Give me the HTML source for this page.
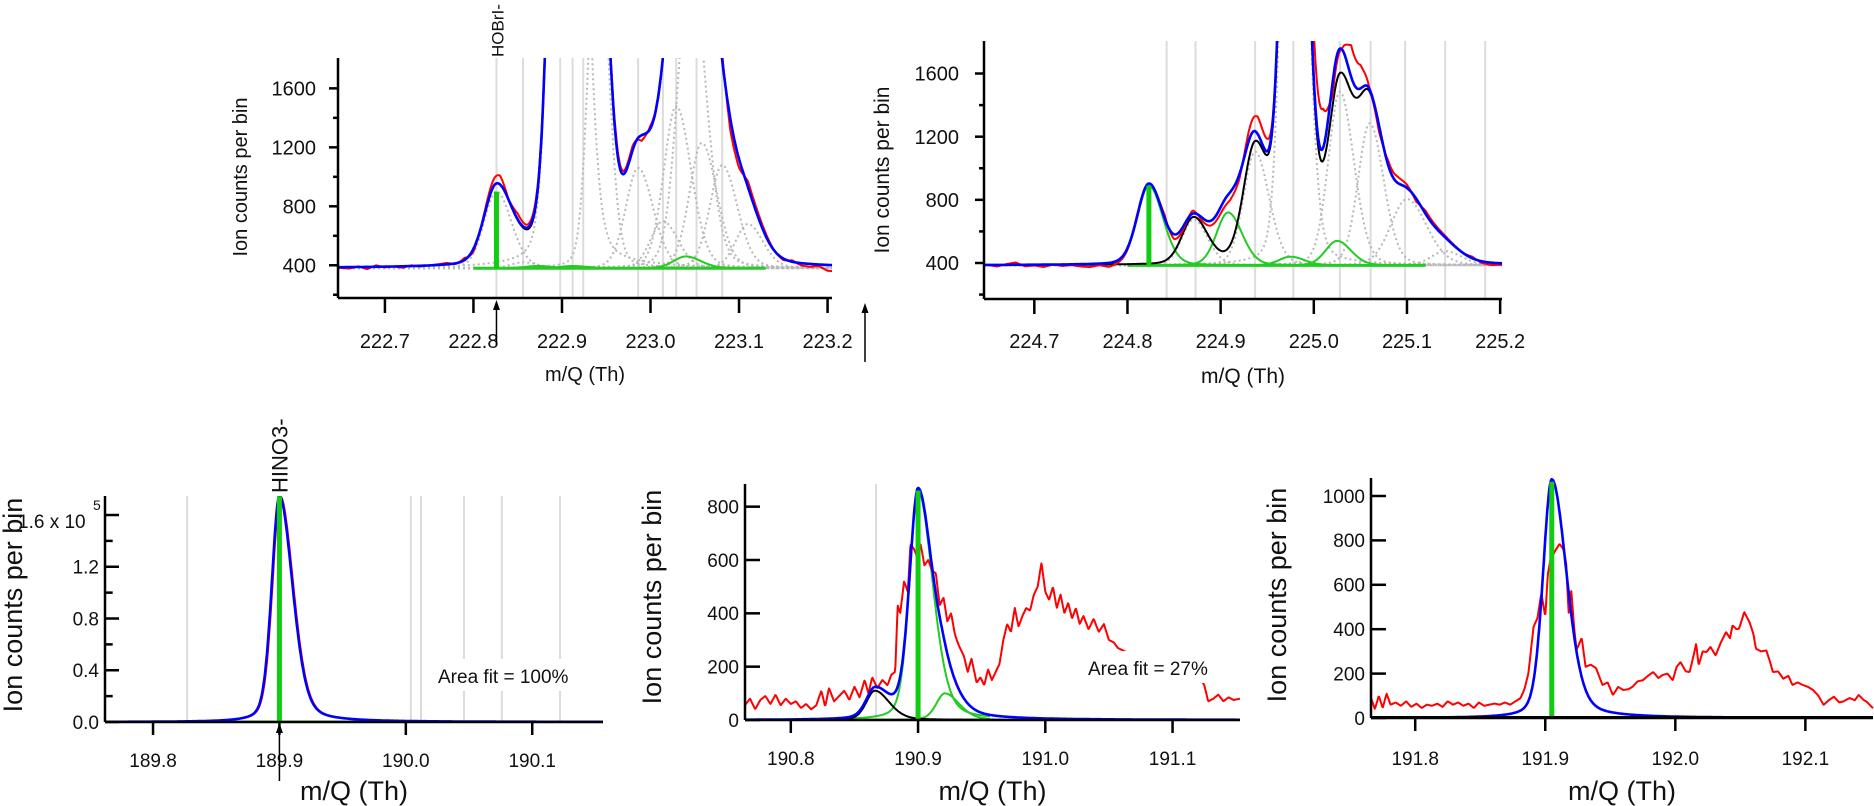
<!DOCTYPE html>
<html><head><meta charset="utf-8">
<style>
html,body{margin:0;padding:0;background:#fff;}
svg{display:block;font-family:"Liberation Sans",sans-serif;}
</style></head>
<body>
<svg id="fig" width="1874" height="806" viewBox="0 0 1874 806" xmlns="http://www.w3.org/2000/svg">
<rect width="1874" height="806" fill="#fff"/>
</svg>
<script>
// ===== Data (m/Q in Th, counts per bin) =====
// Panel A (HOBrI-, 222.x)
const aTicksX=[222.7,222.8,222.9,223.0,223.1,223.2];
const aTickLabelsX=["222.7","222.8","222.9","223.0","223.1","223.2"];
const aTicksY=[400,800,1200,1600];
const aTickLabelsY=["400","800","1200","1600"];
const aMinorY=[200,600,1000,1400];
const aBaseline=[380];
const aCenters=[222.826,222.856,222.905,222.94,222.872,222.912,222.986,223.014,223.029,223.040,223.045,223.058,223.081,223.11];
const aHeights=[520,40,8000,2500,15,15,680,320,1100,80,2100,850,700,300];
const aWidths=[1,1,0.9,0.7,1,1,1,1,1,1,1,1,1,1];
const aKinds=["k","k","k","k","g","g","k","k","k","g","k","k","k","k"];
const aMarkers=[222.826,222.856,222.898,222.912,222.924,222.986,223.014,223.029,223.052,223.081];
const aResidStart=[222.65];
const aResid=[-5,-10,5,-15,10,-5,0,-10,5,-5,0,5,10,-5,15,-20,10,40,60,0,40,20,30,20,0,0,0,0,0,0,0,40,20,30,-40,20,0,0,0,0,0,100,150,60,-80,-60,40,30,20,0,-10,10,-15,-20,-10,-40];

// Panel B (224.x)
const bTicksX=[224.7,224.8,224.9,225.0,225.1,225.2];
const bTickLabelsX=["224.7","224.8","224.9","225.0","225.1","225.2"];
const bTicksY=[400,800,1200,1600];
const bTickLabelsY=["400","800","1200","1600"];
const bMinorY=[200,600,1000,1400];
const bBaseline=[385];
const bCenters=[224.823,224.871,224.908,224.937,224.978,224.975,225.025,225.028,225.060,225.100,225.141];
const bHeights=[505,290,335,720,5000,55,155,1100,900,420,90];
const bWidths=[1,1,1,1,0.8,1,1,1,1,1.4,1.2];
const bKinds=["g","k","g","k","k","g","g","k","k","k","k"];
const bMarkers=[224.842,224.873,224.937,224.978,225.028,225.061,225.098,225.141,225.184];
const bResidStart=[224.65];
const bResid=[0,-10,5,15,-10,-5,-15,0,-10,-5,-15,-20,-10,-25,-15,-10,10,0,0,20,-30,-20,20,-20,-30,-40,-50,-30,60,110,80,0,0,0,0,300,250,-80,0,200,150,0,-40,30,40,20,-20,20,15,10,5,0,10,-10,-15,-10,-20];

// Panel C (HINO3-, 189.9)
const cTicksX=[189.8,189.9,190.0,190.1];
const cTickLabelsX=["189.8","189.9","190.0","190.1"];
const cTicksY=[0,0.4e5,0.8e5,1.2e5];
const cTickLabelsY=["0.0","0.4","0.8","1.2"];
const cMinorY=[0.2e5,0.6e5,1.0e5,1.4e5];
const cCenters=[189.9];
const cHeights=[1.745e5];
const cKinds=["g"];
const cMarkers=[189.827,190.004,190.012,190.046,190.076,190.122];

// Panel D (190.9)
const dTicksX=[190.8,190.9,191.0,191.1];
const dTickLabelsX=["190.8","190.9","191.0","191.1"];
const dTicksY=[0,200,400,600,800];
const dTickLabelsY=["0","200","400","600","800"];
const dCenters=[190.9,190.921,190.866];
const dHeights=[860,100,110];
const dKinds=["g","g","k"];
const dMarkers=[190.867];
const dRedMz=[190.764,190.768,190.772,190.776,190.780,190.784,190.788,190.792,190.796,190.800,190.804,190.808,190.812,190.816,190.820,190.824,190.827,190.830,190.834,190.838,190.842,190.846,190.850,190.854,190.858,190.861,190.864,190.868,190.872,190.876,190.879,190.882,190.884,190.886,190.889,190.892,190.894,190.897,190.900,190.902,190.905,190.908,190.911,190.914,190.917,190.920,190.923,190.926,190.929,190.932,190.936,190.939,190.942,190.946,190.949,190.952,190.955,190.958,190.961,190.964,190.967,190.970,190.973,190.976,190.979,190.982,190.985,190.988,190.991,190.994,190.997,191.000,191.003,191.006,191.009,191.012,191.015,191.018,191.021,191.024,191.027,191.030,191.034,191.038,191.042,191.046,191.050,191.054,191.057,191.070,191.090,191.110,191.120,191.125,191.128,191.132,191.136,191.140,191.144,191.148,191.153];
const dRedCounts=[56,80,40,75,90,60,95,55,80,60,70,45,60,40,55,110,50,120,70,90,110,75,125,85,150,100,160,120,150,130,170,180,430,400,520,480,660,640,600,660,580,600,560,550,430,460,370,400,320,280,240,180,230,140,160,130,190,150,180,210,300,360,330,420,350,390,420,410,470,500,590,480,450,500,420,470,400,440,380,420,360,390,340,380,330,360,300,290,270,240,210,180,170,130,70,80,95,70,85,75,80];

// Panel E (191.9)
const eTicksX=[191.8,191.9,192.0,192.1];
const eTickLabelsX=["191.8","191.9","192.0","192.1"];
const eTicksY=[0,200,400,600,800,1000];
const eTickLabelsY=["0","200","400","600","800","1000"];
const eCenters=[191.905];
const eHeights=[1075];
const eKinds=["g"];
const eRedMz=[191.766,191.769,191.772,191.775,191.778,191.781,191.785,191.789,191.793,191.797,191.801,191.805,191.809,191.813,191.817,191.821,191.825,191.829,191.833,191.837,191.841,191.845,191.849,191.853,191.857,191.861,191.865,191.869,191.873,191.877,191.881,191.884,191.887,191.891,191.894,191.897,191.900,191.902,191.904,191.908,191.911,191.914,191.916,191.918,191.920,191.922,191.924,191.928,191.931,191.935,191.939,191.944,191.948,191.952,191.956,191.960,191.964,191.967,191.971,191.975,191.979,191.983,191.987,191.990,191.994,191.998,192.001,192.004,192.008,192.011,192.014,192.016,192.018,192.021,192.024,192.027,192.031,192.035,192.039,192.042,192.044,192.047,192.049,192.053,192.057,192.060,192.062,192.066,192.070,192.073,192.075,192.079,192.083,192.087,192.090,192.094,192.098,192.102,192.106,192.110,192.114,192.118,192.122,192.126,192.129,192.134,192.138,192.141,192.145,192.147,192.152];
const eRedCounts=[90,40,100,45,110,60,70,55,75,50,65,45,60,55,65,50,75,60,70,55,65,45,70,55,60,65,60,70,60,75,90,130,200,411,450,563,456,650,712,757,784,760,700,473,576,420,306,361,231,240,225,149,160,103,140,126,130,140,165,170,190,207,180,193,200,170,230,252,210,207,280,334,237,300,297,320,282,340,387,360,417,400,402,477,432,380,312,300,304,250,207,210,177,190,149,160,149,140,126,100,59,80,96,70,74,90,80,104,80,74,44];

// ===== Rendering =====
const NS="http://www.w3.org/2000/svg";
const svg=document.getElementById("fig");
function el(tag,attrs,parent){const e=document.createElementNS(NS,tag);for(const k in attrs)e.setAttribute(k,attrs[k]);(parent||svg).appendChild(e);return e;}
function pk(x,c,h,sl,sr,eta){const d=x-c;const s=d<0?sl:sr;const g=Math.exp(-d*d/(2*s*s));const gam=s*1.1774;const l=1/(1+(d/gam)*(d/gam));return h*((1-eta)*g+eta*l);}
function interp(xs,ys,x){if(x<=xs[0])return ys[0];for(let i=1;i<xs.length;i++){if(x<=xs[i]){const t=(x-xs[i-1])/(xs[i]-xs[i-1]);return ys[i-1]+t*(ys[i]-ys[i-1]);}}return ys[ys.length-1];}

function makePanel(P){
  const g=el("g",{});
  
  
  const sx=v=>P.x0+(v-P.xmin)/(P.xmax-P.xmin)*(P.x1-P.x0);
  const sy=v=>P.y1-(v-P.ymin)/(P.ymax-P.ymin)*(P.y1-P.y0);
  const cid="clip-"+P.name;
  const cp=el("clipPath",{id:cid},g);
  el("rect",{x:P.x0,y:P.y0,width:P.x1-P.x0+2,height:P.y1-P.y0},cp);
  const plot=el("g",{"clip-path":"url(#"+cid+")"},g);
  (P.markers||[]).forEach(m=>{
    const ln=el("line",{x1:sx(m),x2:sx(m),y1:P.y0,y2:P.y1,stroke:"#dcdcdc","stroke-width":2},plot);
    
    
  });
  const N=800;const xs=[];for(let i=0;i<=N;i++)xs.push(P.xmin+(P.xmax-P.xmin)*i/N);
  const comp=(i,x)=>{const w=P.widths?P.widths[i]:1;return pk(x,P.centers[i],P.heights[i],P.sl*w,P.sr*w,P.eta);};
  const path=(f,stroke,w,extra)=>{let d="";xs.forEach((x)=>{const v=f(x);if(v===null)return;d+=(d?"L":"M")+sx(x).toFixed(1)+","+sy(v).toFixed(1);});return el("path",Object.assign({d:d,fill:"none",stroke:stroke,"stroke-width":w,"stroke-linejoin":"round"},extra||{}),plot);};
  const base=P.base;
  if(P.dotted){P.kinds.forEach((k,i)=>{if(k!=="k")return;const p=path(x=>base+comp(i,x),"#b8b8b8",2,{"stroke-dasharray":"2,3"});});}
  const gb=el("line",{x1:sx(P.gbFrom),x2:sx(P.gbTo),y1:sy(base),y2:sy(base),stroke:"#22cc22","stroke-width":3},plot);
  
  
  P.kinds.forEach((k,i)=>{if(k!=="g"||P.noGreenCurve)return;const lim=P.greenTo||P.xmax;const p=path(x=>{const v=comp(i,x);return (v<P.greenMin||x>lim)?null:base+v;},"#22cc22",2);});
  if(P.black){const p=path(x=>{let s=base;P.kinds.forEach((k,i)=>{if(k==="k")s+=comp(i,x);});return s;},"#000",2);}
  const fit=x=>{let s=base;P.kinds.forEach((k,i)=>{s+=comp(i,x);});return s;};
  const rp=path(x=>P.red(x,fit),"#ff0000",2);
  
  
  const bp=path(fit,"#0000ff",2.6);
  
  
  const st=el("line",{x1:sx(P.centers[0]),x2:sx(P.centers[0]),y1:sy(base),y2:sy(base+P.heights[0]*P.stickFrac),stroke:"#11cc11","stroke-width":5},plot);
  
  
  const ax=el("g",{stroke:"#000","stroke-width":2.5,fill:"none"},g);
  const ya=el("line",{x1:P.x0,x2:P.x0,y1:P.y0,y2:P.y1},ax);
  
  
  const xa=el("line",{x1:P.x0,x2:P.x1,y1:P.y1,y2:P.y1},ax);
  
  
  const dir=P.yTickIn?1:-1;
  P.ticksY.forEach((v,i)=>{
    el("line",{x1:P.x0,x2:P.x0+dir*P.tickLen,y1:sy(v),y2:sy(v)},ax);
    const t=el("text",{x:P.yLabelRight,y:sy(v)+P.tickFont*0.36,"text-anchor":"end","font-size":P.tickFont,fill:"#111"},g);
    t.textContent=P.tickLabelsY[i];
    
    
  });
  (P.minorY||[]).forEach(v=>{el("line",{x1:P.x0,x2:P.x0+dir*P.tickLen*0.55,y1:sy(v),y2:sy(v)},ax);});
  P.ticksX.forEach((v,i)=>{
    el("line",{x1:sx(v),x2:sx(v),y1:P.y1,y2:P.y1+P.xTickLen},ax);
    const t=el("text",{x:sx(v),y:P.xLabelBase,"text-anchor":"middle","font-size":P.tickFont,fill:"#111"},g);
    t.textContent=P.tickLabelsX[i];
    
    
  });
  const xt=el("text",{x:(P.x0+P.x1)/2,y:P.xTitleBase,"text-anchor":"middle","font-size":P.titleFont,fill:"#111"},g);
  xt.textContent="m/Q (Th)";
  
  
  const yt=el("text",{x:0,y:0,"text-anchor":"middle","font-size":P.titleFont,fill:"#111",transform:"translate("+P.yTitleX+","+P.yTitleY+") rotate(-90)"},g);
  yt.textContent="Ion counts per bin";
  
  
  return {sx,sy,g};
}

const redResid=(start,arr)=>(x,fit)=>{const xsr=arr.map((_,i)=>start+i*0.01);return fit(x)+interp(xsr,arr,x);};

const A=makePanel({name:"panel-hobri",x0:338,x1:832,y0:58,y1:298,xmin:222.647,xmax:223.205,ymin:178,ymax:1806,
  centers:aCenters,heights:aHeights,widths:aWidths,kinds:aKinds,markers:aMarkers,base:aBaseline[0],sl:0.014,sr:0.017,eta:0.15,
  dotted:true,black:true,gbFrom:222.8,gbTo:223.13,greenMin:3,stickFrac:1,red:redResid(aResidStart[0],aResid),
  ticksX:aTicksX,tickLabelsX:aTickLabelsX,ticksY:aTicksY,tickLabelsY:aTickLabelsY,minorY:aMinorY,
  tickLen:9,xTickLen:15,tickFont:20,yLabelRight:316,xLabelBase:348,titleFont:20,xTitleBase:381,yTitleX:247,yTitleY:177});
const B=makePanel({name:"panel-224",x0:984,x1:1502,y0:41,y1:299,xmin:224.646,xmax:225.202,ymin:172,ymax:1806,
  centers:bCenters,heights:bHeights,widths:bWidths,kinds:bKinds,markers:bMarkers,base:bBaseline[0],sl:0.0125,sr:0.015,eta:0.15,
  dotted:true,black:true,gbFrom:224.8,gbTo:225.12,greenMin:3,stickFrac:1,red:redResid(bResidStart[0],bResid),
  ticksX:bTicksX,tickLabelsX:bTickLabelsX,ticksY:bTicksY,tickLabelsY:bTickLabelsY,minorY:bMinorY,
  tickLen:9,xTickLen:15,tickFont:20,yLabelRight:959,xLabelBase:348,titleFont:21,xTitleBase:383,yTitleX:889,yTitleY:170});
const C=makePanel({name:"panel-hino3",x0:105,x1:603,y0:496,y1:722,xmin:189.762,xmax:190.156,ymin:0,ymax:1.747e5,
  centers:cCenters,heights:cHeights,kinds:cKinds,markers:cMarkers,base:0,sl:0.0062,sr:0.0105,eta:0.3,
  dotted:false,black:false,gbFrom:189.848,gbTo:189.99,greenMin:1e9,stickFrac:1,red:(x,fit)=>fit(x-0.0006),
  ticksX:cTicksX,tickLabelsX:cTickLabelsX,ticksY:cTicksY,tickLabelsY:cTickLabelsY,minorY:cMinorY,yTickIn:true,
  tickLen:14,xTickLen:13,tickFont:19,yLabelRight:99,xLabelBase:767,titleFont:27,xTitleBase:800,yTitleX:22,yTitleY:605});
const D=makePanel({name:"panel-190-9",x0:745,x1:1240,y0:484,y1:720,xmin:190.764,xmax:191.153,ymin:0,ymax:885,
  centers:dCenters,heights:dHeights,kinds:dKinds,markers:dMarkers,base:0,sl:0.0068,sr:0.0115,eta:0.3,
  dotted:false,black:true,gbFrom:190.84,gbTo:190.96,greenMin:2,greenTo:190.957,stickFrac:1,red:(x)=>interp(dRedMz,dRedCounts,x),
  ticksX:dTicksX,tickLabelsX:dTickLabelsX,ticksY:dTicksY,tickLabelsY:dTickLabelsY,yTickIn:true,
  tickLen:15,xTickLen:13,tickFont:19,yLabelRight:739,xLabelBase:765,titleFont:27,xTitleBase:800,yTitleX:661,yTitleY:597});
const E=makePanel({name:"panel-191-9",x0:1371,x1:1873,y0:478,y1:718,xmin:191.766,xmax:192.152,ymin:0,ymax:1081,
  centers:eCenters,heights:eHeights,kinds:eKinds,markers:[],base:0,sl:0.0068,sr:0.0115,eta:0.3,
  dotted:false,black:false,noGreenCurve:true,gbFrom:191.766,gbTo:191.766,greenMin:1e9,stickFrac:0.99,red:(x)=>interp(eRedMz,eRedCounts,x),
  ticksX:eTicksX,tickLabelsX:eTickLabelsX,ticksY:eTicksY,tickLabelsY:eTickLabelsY,yTickIn:true,
  tickLen:15,xTickLen:13,tickFont:19,yLabelRight:1365,xLabelBase:765,titleFont:27,xTitleBase:800,yTitleX:1286,yTitleY:595});

const eb=el("line",{x1:1371,x2:1873,y1:717,y2:717,stroke:"#000","stroke-width":2});



function label(txt,x,y,size,name,rot){const t=el("text",{x:x,y:y,"font-size":size,fill:"#111"});if(rot)t.setAttribute("transform","rotate(-90 "+x+" "+y+")");t.textContent=txt;return t;}
label("HOBrI-",A.sx(222.826)+7,57,17,"hobri-label",true);
label("HINO3-",C.sx(189.9)+8,493,22,"hino3-label",true);
function arrow(x,yTip,yTail,name){const g=el("g",{});el("line",{x1:x,x2:x,y1:yTip+4,y2:yTail,stroke:"#000","stroke-width":1.5},g);el("polygon",{points:x+","+yTip+" "+(x-3.5)+","+(yTip+10)+" "+(x+3.5)+","+(yTip+10),fill:"#000"},g);}
arrow(A.sx(222.826),300,345,"hobri-arrow");
arrow(865,303,362,"stray-arrow");
arrow(C.sx(189.9),723,781,"hino3-arrow");
function areaFit(txt,x,y,w,name){const r=el("rect",{x:x-4,y:y-24,width:w,height:32,fill:"#fff"});label(txt,x,y,19,name,false);}
areaFit("Area fit = 100%",438,683,164,"area-fit-100");
areaFit("Area fit = 27%",1088,675,130,"area-fit-27");
label("1.6 x 10",18,528,19,"y-tick-label-1e5",false);
label("5",93,510,14,"y-tick-exponent",false);
const cm=el("line",{x1:105,x2:119,y1:C.sy(1.6e5),y2:C.sy(1.6e5),stroke:"#000","stroke-width":2.5});


</script>
</body></html>
